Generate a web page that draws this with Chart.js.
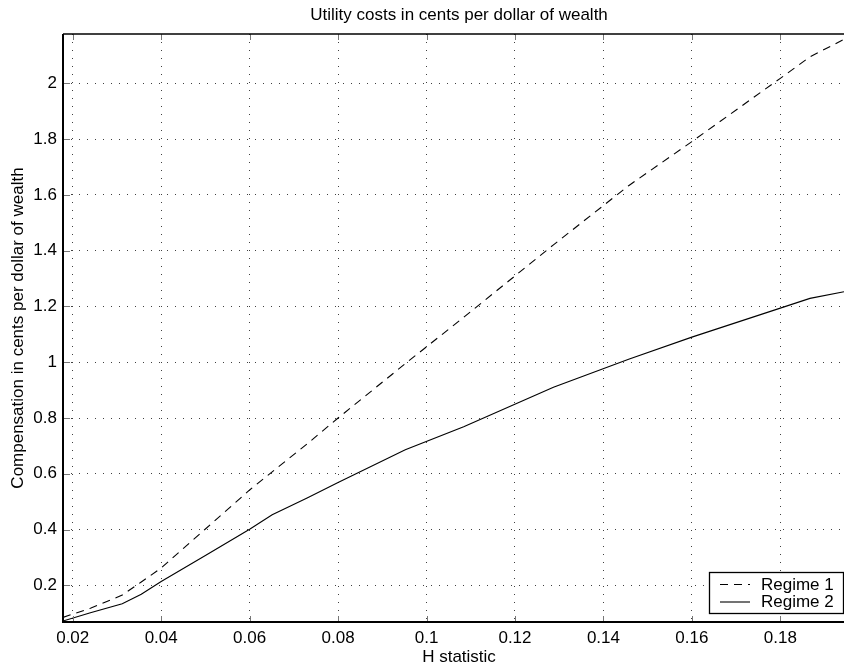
<!DOCTYPE html>
<html>
<head>
<meta charset="utf-8">
<script src="https://cdn.jsdelivr.net/npm/chart.js@4"></script>
<style>
  html, body { margin: 0; padding: 0; background: #fff; }
  #wrap { width: 844px; height: 669px; }
</style>
</head>
<body>
<div id="wrap"><canvas id="utilityChart" width="844" height="669"></canvas></div>
<script>
// values
const hStat = [0.0178, 0.024, 0.0312, 0.0355, 0.04, 0.05, 0.06, 0.0651, 0.073, 0.08,
  0.0952, 0.1084, 0.1287, 0.1457, 0.16, 0.18, 0.1867, 0.1944]
const regime1 = [0.085, 0.118, 0.165, 0.212, 0.262, 0.402, 0.542, 0.607, 0.707, 0.80,
  0.995, 1.161, 1.421, 1.633, 1.791, 2.018, 2.095, 2.158]
const regime2 = [0.072, 0.102, 0.134, 0.168, 0.214, 0.307, 0.401, 0.453, 0.513, 0.569,
  0.686, 0.769, 0.910, 1.011, 1.090, 1.194, 1.229, 1.253]
const seriesLabels = ['Regime 1', 'Regime 2']
const xTicks = [0.02, 0.04, 0.06, 0.08, 0.1, 0.12, 0.14, 0.16, 0.18]
const yTicks = [0.2, 0.4, 0.6, 0.8, 1, 1.2, 1.4, 1.6, 1.8, 2]
const titleText = 'Utility costs in cents per dollar of wealth'
const xTitle = 'H statistic'
const yTitle = 'Compensation in cents per dollar of wealth'

const FONT = '"Liberation Sans", Arial, Helvetica, sans-serif'
const fmt = (v) => String(+v.toFixed(2))

// Matlab style frame, inner ticks, titles and legend
const matlabFrame = {
  id: 'matlabFrame',
  afterDraw(chart) {
    const { ctx, chartArea: a, scales } = chart
    ctx.save()
    ctx.strokeStyle = '#000'
    ctx.setLineDash([])

    // inner tick marks
    ctx.lineWidth = 1
    ctx.strokeStyle = '#777'
    xTicks.forEach((v) => {
      const x = Math.round(scales.x.getPixelForValue(v)) + 0.5
      ctx.beginPath(); ctx.moveTo(x, a.bottom); ctx.lineTo(x, a.bottom - 6); ctx.stroke()
      ctx.beginPath(); ctx.moveTo(x, a.top); ctx.lineTo(x, a.top + 6); ctx.stroke()
    })
    yTicks.forEach((v) => {
      const y = Math.round(scales.y.getPixelForValue(v)) + 0.5
      ctx.beginPath(); ctx.moveTo(a.left, y); ctx.lineTo(a.left + 7, y); ctx.stroke()
    })

    // axes box
    ctx.strokeStyle = '#000'
    ctx.lineWidth = 2
    ctx.beginPath()
    ctx.moveTo(a.right, a.bottom); ctx.lineTo(a.left, a.bottom); ctx.lineTo(a.left, a.top); ctx.stroke()
    ctx.lineWidth = 1.5
    ctx.beginPath(); ctx.moveTo(a.left, a.top); ctx.lineTo(a.right, a.top); ctx.stroke()

    // titles
    const cx = 459
    ctx.fillStyle = '#000'
    ctx.font = '17px ' + FONT
    ctx.textAlign = 'center'
    ctx.textBaseline = 'middle'
    ctx.fillText(titleText, cx, 15)
    ctx.fillText(xTitle, cx, 657)
    ctx.save()
    ctx.translate(18, (a.top + a.bottom) / 2)
    ctx.rotate(-Math.PI / 2)
    ctx.fillText(yTitle, 0, 0)
    ctx.restore()

    // legend
    const bx = 709.5, by = 572.5, bw = 134, bh = 41
    ctx.fillStyle = '#fff'
    ctx.fillRect(bx, by, bw, bh)
    ctx.lineWidth = 1.3
    ctx.strokeRect(bx, by, bw, bh)
    chart.data.datasets.forEach((ds, i) => {
      const y = 584.5 + i * 17.5
      ctx.strokeStyle = '#000'
      ctx.lineWidth = 1.1
      ctx.setLineDash(ds.borderDash || [])
      ctx.beginPath(); ctx.moveTo(720, y); ctx.lineTo(750, y); ctx.stroke()
      ctx.setLineDash([])
      ctx.fillStyle = '#000'
      ctx.textAlign = 'left'
      ctx.fillText(ds.label, 761, y + 0.5)
    })
    ctx.restore()
  }
}

const ctx = document.getElementById('utilityChart')

new Chart(ctx, {
  type: 'line',
  data: {
    datasets: [{
      label: seriesLabels[0],
      data: hStat.map((x, i) => ({ x: x, y: regime1[i] })),
      borderColor: '#000',
      borderWidth: 1.1,
      borderDash: [8, 6],
      pointRadius: 0,
      tension: 0,
      fill: false
    },
    {
      label: seriesLabels[1],
      data: hStat.map((x, i) => ({ x: x, y: regime2[i] })),
      borderColor: '#000',
      borderWidth: 1.1,
      pointRadius: 0,
      tension: 0,
      fill: false
    }]
  },
  options: {
    responsive: false,
    animation: false,
    layout: { padding: { top: 34, right: 0, left: 0, bottom: 0 } },
    plugins: {
      legend: { display: false },
      title: { display: false },
      tooltip: { enabled: false }
    },
    scales: {
      x: {
        type: 'linear',
        min: 0.0178,
        max: 0.1944,
        afterBuildTicks: (scale) => { scale.ticks = xTicks.map((v) => ({ value: v })) },
        afterFit: (scale) => { scale.height = 47 },
        grid: {
          color: 'rgba(0,0,0,0.75)',
          lineWidth: 1,
          drawTicks: false
        },
        border: { display: false, dash: [1, 7] },
        ticks: {
          color: '#000',
          font: { family: FONT, size: 17 },
          padding: 6,
          maxRotation: 0,
          autoSkip: false,
          callback: (v) => fmt(v)
        }
      },
      y: {
        type: 'linear',
        min: 0.0685,
        max: 2.177,
        afterBuildTicks: (scale) => { scale.ticks = yTicks.map((v) => ({ value: v })) },
        afterFit: (scale) => { scale.width = 63 },
        grid: {
          color: 'rgba(0,0,0,0.75)',
          lineWidth: 1,
          drawTicks: false
        },
        border: { display: false, dash: [1, 7] },
        ticks: {
          color: '#000',
          font: { family: FONT, size: 17 },
          padding: 6,
          autoSkip: false,
          callback: (v) => fmt(v)
        }
      }
    }
  },
  plugins: [matlabFrame]
})
</script>
</body>
</html>
